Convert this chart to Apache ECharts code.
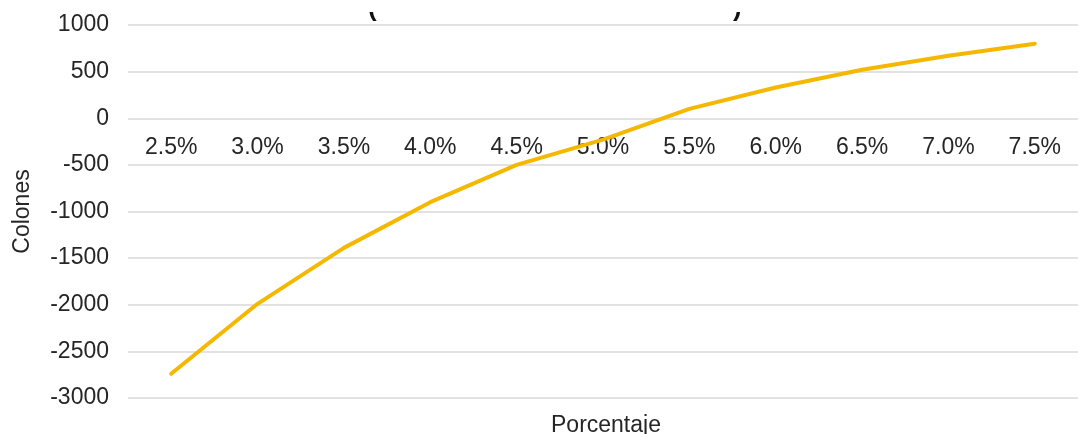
<!DOCTYPE html>
<html>
<head>
<meta charset="utf-8">
<script src="https://cdn.jsdelivr.net/npm/echarts@6/dist/echarts.min.js"></script>
<style>
  html, body { margin: 0; padding: 0; background: #ffffff; }
  #chart { width: 1078px; height: 434px; }
</style>
</head>
<body>
<div id="chart"></div>
<script>
// Rate categories along the horizontal axis
const rates = ['2.5%', '3.0%', '3.5%', '4.0%', '4.5%', '5.0%', '5.5%', '6.0%', '6.5%', '7.0%', '7.5%'];
// Value in colones for each rate
const colones = [-2740, -1990, -1390, -900, -500, -230, 100, 330, 520, 670, 800];
// Vertical scale
const yMin = -3000;
const yMax = 1000;
const yStep = 500;

const FONT = '"Liberation Sans", Arial, sans-serif';
const TEXT = '#262626';
const GRID = '#d9d9d9';

const chart = echarts.init(document.getElementById('chart'), null, { renderer: 'canvas' });

chart.setOption({
  animation: false,
  backgroundColor: '#ffffff',
  grid: { left: 128, right: -11, top: 25, bottom: 36, containLabel: false },
  xAxis: {
    type: 'category',
    data: rates,
    boundaryGap: true,
    z: 0,
    axisLine: { show: false, onZero: false },
    axisTick: { show: false },
    axisLabel: { color: TEXT, fontFamily: FONT, fontSize: 23, margin: 16 }
  },
  yAxis: {
    type: 'value',
    min: yMin,
    max: yMax,
    interval: yStep,
    name: 'Colones',
    nameLocation: 'middle',
    nameGap: 94,
    nameTextStyle: { color: TEXT, fontFamily: FONT, fontSize: 23 },
    axisLine: { show: false },
    axisTick: { show: false },
    axisLabel: { color: TEXT, fontFamily: FONT, fontSize: 23, margin: 19, formatter: v => String(v) },
    splitLine: { lineStyle: { color: GRID, width: 1.5 } }
  },
  series: [{
    type: 'line',
    data: colones,
    symbol: 'none',
    smooth: false,
    z: 5,
    lineStyle: { color: '#F5B800', width: 4, cap: 'round' }
  }],
  graphic: [
    // Title, mostly cut off by the top edge; only the lower ends of its brackets show
    { type: 'text', left: 368, top: -4, z: 1, style: { text: '(', font: 'bold 26px ' + FONT, fill: '#111' } },
    { type: 'text', left: 733, top: -4, z: 1, style: { text: ')', font: 'bold 26px ' + FONT, fill: '#111' } },
    { type: 'rect', left: 340, top: 0, z: 2, shape: { width: 440, height: 12 }, style: { fill: '#ffffff' } },
    // Horizontal axis title
    { type: 'text', left: 551, top: 414, style: { text: 'Porcentaje', font: '23px ' + FONT, fill: TEXT } }
  ]
});

// Move the category axis labels up onto the zero line of the value axis
const yZero = chart.convertToPixel({ yAxisIndex: 0 }, 0);
const yBottom = chart.convertToPixel({ yAxisIndex: 0 }, yMin);
chart.setOption({ xAxis: { offset: -(yBottom - yZero) } });
</script>
</body>
</html>
